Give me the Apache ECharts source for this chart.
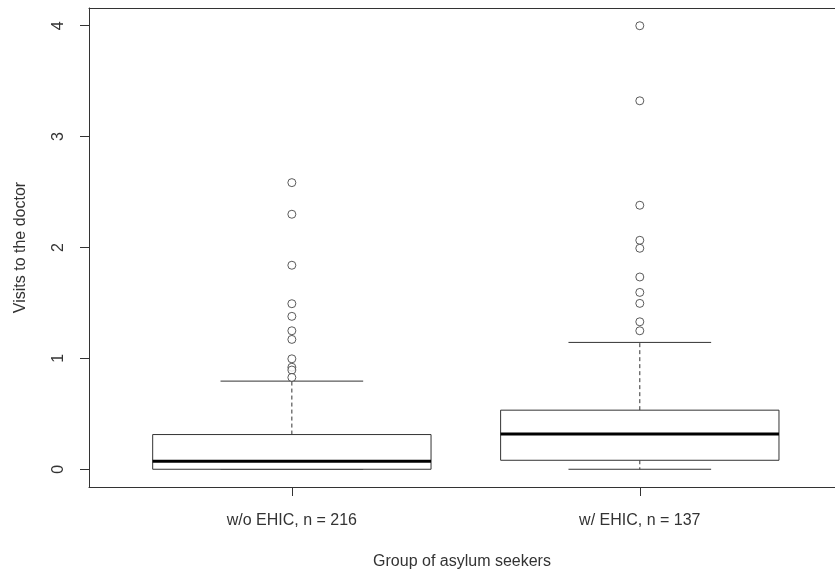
<!DOCTYPE html>
<html>
<head>
<meta charset="utf-8">
<script src="https://cdn.jsdelivr.net/npm/echarts@6/dist/echarts.min.js"></script>
<style>
html,body{margin:0;padding:0;background:#fff;}
#chart{width:835px;height:571px;}
</style>
</head>
<body>
<div id="chart"></div>
<script>
// ---- data ----
var categories = ['w/o EHIC, n = 216', 'w/ EHIC, n = 137'];
var positions = [1, 2];
var whiskerLow = [0, 0];
var q1 = [0, 0.081];
var median = [0.072, 0.319];
var q3 = [0.313, 0.533];
var whiskerHigh = [0.795, 1.144];
var outliersNoEHIC = [2.585, 2.30, 1.84, 1.493, 1.379, 1.249, 1.171, 0.996, 0.92, 0.895, 0.828];
var outliersEHIC = [4.0, 3.323, 2.381, 2.065, 1.993, 1.734, 1.595, 1.496, 1.330, 1.249];
var yTicks = [0, 1, 2, 3, 4];

var boxData = positions.map(function (p, i) {
  return [p, whiskerLow[i], q1[i], median[i], q3[i], whiskerHigh[i]];
});
var outlierData = [];
outliersNoEHIC.forEach(function (v) { outlierData.push([positions[0], v]); });
outliersEHIC.forEach(function (v) { outlierData.push([positions[1], v]); });

var BOX_HALF = 0.4, CAP_HALF = 0.205;
var lineCol = '#333';

function renderBox(params, api) {
  var x = api.value(0), lo = api.value(1), a = api.value(2), m = api.value(3), b = api.value(4), hi = api.value(5);
  var pL = api.coord([x - BOX_HALF, b]);
  var pR = api.coord([x + BOX_HALF, a]);
  var pc = function (xx, yy) { return api.coord([xx, yy]); };
  var children = [];
  var cTop = pc(x, b), cHi = pc(x, hi), cBot = pc(x, a), cLo = pc(x, lo);
  children.push({ type: 'line', shape: { x1: cTop[0], y1: cTop[1], x2: cHi[0], y2: cHi[1] },
    style: { stroke: lineCol, lineWidth: 1, lineDash: [4, 3] } });
  children.push({ type: 'line', shape: { x1: cBot[0], y1: cBot[1], x2: cLo[0], y2: cLo[1] },
    style: { stroke: lineCol, lineWidth: 1, lineDash: [4, 3] } });
  var h1 = pc(x - CAP_HALF, hi), h2 = pc(x + CAP_HALF, hi);
  children.push({ type: 'line', shape: { x1: h1[0], y1: h1[1], x2: h2[0], y2: h2[1] }, style: { stroke: lineCol, lineWidth: 1 } });
  var l1 = pc(x - CAP_HALF, lo), l2 = pc(x + CAP_HALF, lo);
  children.push({ type: 'line', shape: { x1: l1[0], y1: l1[1], x2: l2[0], y2: l2[1] }, style: { stroke: lineCol, lineWidth: 1 } });
  children.push({ type: 'rect', shape: { x: pL[0], y: pL[1], width: pR[0] - pL[0], height: pR[1] - pL[1] },
    style: { fill: '#fff', stroke: lineCol, lineWidth: 1 } });
  var m1 = pc(x - BOX_HALF, m), m2 = pc(x + BOX_HALF, m);
  children.push({ type: 'line', shape: { x1: m1[0], y1: m1[1], x2: m2[0], y2: m2[1] }, style: { stroke: '#000', lineWidth: 3 } });
  return { type: 'group', children: children };
}

var font = 'Liberation Sans, Arial, sans-serif';
var chart = echarts.init(document.getElementById('chart'), null, { renderer: 'canvas' });
chart.setOption({
  backgroundColor: '#fff',
  animation: false,
  grid: { left: 89, top: 8, right: 0, bottom: 84, show: false, containLabel: false, outerBoundsMode: 'none' },
  xAxis: [{
    type: 'value', min: 0.417, max: 2.561,
    name: 'Group of asylum seekers', nameLocation: 'middle', nameGap: 67,
    nameTextStyle: { fontFamily: font, fontSize: 16, color: '#333' },
    axisLine: { show: true, onZero: false, lineStyle: { color: lineCol, width: 1 } },
    axisTick: { show: true, length: 9, customValues: positions, lineStyle: { color: lineCol } },
    axisLabel: { show: true, margin: 26, customValues: positions, fontFamily: font, fontSize: 16, color: '#333',
      formatter: function (v) { var i = positions.indexOf(v); return i >= 0 ? categories[i] : ''; } },
    splitLine: { show: false }
  }, {
    type: 'value', min: 0.417, max: 2.561, position: 'top',
    axisLine: { show: true, onZero: false, lineStyle: { color: lineCol, width: 1 } },
    axisTick: { show: false }, axisLabel: { show: false }, splitLine: { show: false }
  }],
  yAxis: {
    type: 'value', min: -0.16, max: 4.16,
    name: 'Visits to the doctor', nameLocation: 'middle', nameGap: 60, nameRotate: 90,
    nameTextStyle: { fontFamily: font, fontSize: 16, color: '#333' },
    axisLine: { show: true, onZero: false, lineStyle: { color: lineCol, width: 1 } },
    axisTick: { show: true, length: 9, customValues: yTicks, lineStyle: { color: lineCol } },
    axisLabel: { show: true, rotate: 90, margin: 22, customValues: yTicks, fontFamily: font, fontSize: 16, color: '#333' },
    splitLine: { show: false }
  },
  series: [
    { type: 'custom', renderItem: renderBox, data: boxData, encode: { x: 0, y: [1, 2, 3, 4, 5] }, z: 2 },
    { type: 'scatter', data: outlierData, symbol: 'circle', symbolSize: 8,
      itemStyle: { color: '#fff', borderColor: '#333', borderWidth: 1 }, z: 3 }
  ]
});
</script>
</body>
</html>
